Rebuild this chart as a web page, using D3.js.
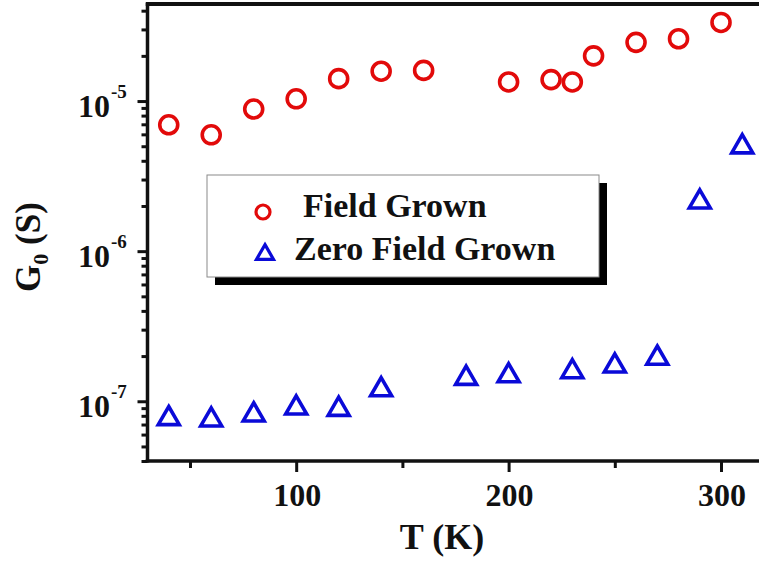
<!DOCTYPE html>
<html>
<head>
<meta charset="utf-8">
<script src="https://cdn.jsdelivr.net/npm/d3@7"></script>
<style>
  html, body { margin: 0; padding: 0; background: #fff; }
  svg { display: block; }
  text { font-family: "Liberation Serif", "Times New Roman", serif; font-weight: bold; fill: #111; }
</style>
</head>
<body>
<svg id="chart" width="759" height="563"></svg>
<script>
// Temperatures (K) and conductance G0 (S) for both sample types
const fieldTemps  = [40, 60, 80, 100, 120, 140, 160, 200, 220, 230, 240, 260, 280, 300];
const fieldValues = [6.95e-6, 5.96e-6, 8.85e-6, 1.035e-5, 1.41e-5, 1.58e-5, 1.60e-5,
                     1.34e-5, 1.39e-5, 1.34e-5, 2.0e-5, 2.46e-5, 2.60e-5, 3.34e-5];

const zeroTemps  = [40, 60, 80, 100, 120, 140, 180, 200, 230, 250, 270, 290, 310];
const zeroValues = [8.03e-8, 7.87e-8, 8.5e-8, 9.46e-8, 9.26e-8, 1.25e-7, 1.49e-7,
                    1.55e-7, 1.65e-7, 1.80e-7, 2.03e-7, 2.23e-6, 5.19e-6];

const seriesNames = ["Field Grown", "Zero Field Grown"];
const xMajorTicks = [100, 200, 300];
const xMinorTicks = [50, 150, 250];
const yMajorExponents = [-7, -6, -5];

const svg = d3.select("#chart");

const x = d3.scaleLinear().domain([30, 320]).range([147.5, 763.5]);
const y = d3.scaleLog().domain([4e-8, 4.5e-5]).range([461, 3]);

const red = "#e20a0a";
const blue = "#0a0ad8";

// Minor log ticks (2..9 per decade) inside the domain
const yMinor = [];
for (let e = -8; e <= -5; e++) {
  for (let m = 2; m <= 9; m++) {
    const v = m * Math.pow(10, e);
    if (v >= 4e-8 && v <= 4.5e-5) yMinor.push(v);
  }
}
const yMajor = yMajorExponents.map(e => Math.pow(10, e));

// Left axis
const left = svg.append("g").attr("transform", `translate(${x.range()[0]},0)`);
left.call(d3.axisLeft(y).tickValues(yMinor).tickSize(6).tickFormat(""));
left.append("g").call(d3.axisLeft(y).tickValues(yMajor).tickSize(10).tickFormat(""));
left.selectAll(".domain").remove();
left.selectAll(".tick line").attr("stroke", "#111").attr("stroke-width", 3);

// Bottom axis
const bottom = svg.append("g").attr("transform", `translate(0,${y.range()[0]})`);
bottom.call(d3.axisBottom(x).tickValues(xMinorTicks).tickSize(7).tickFormat(""));
bottom.append("g").call(d3.axisBottom(x).tickValues(xMajorTicks).tickSize(11).tickFormat(""));
bottom.selectAll(".domain").remove();
bottom.selectAll(".tick line").attr("stroke", "#111").attr("stroke-width", 3);

// Frame lines: left, bottom, top
svg.append("line").attr("x1", x.range()[0]).attr("x2", x.range()[0])
  .attr("y1", y.range()[1]).attr("y2", y.range()[0] + 1.5)
  .attr("stroke", "#111").attr("stroke-width", 3.5);
svg.append("line").attr("x1", x.range()[0] - 1.75).attr("x2", x.range()[1])
  .attr("y1", y.range()[0]).attr("y2", y.range()[0])
  .attr("stroke", "#111").attr("stroke-width", 3.5);
svg.append("line").attr("x1", x.range()[0] - 1.75).attr("x2", x.range()[1])
  .attr("y1", y.range()[1] + 1).attr("y2", y.range()[1] + 1)
  .attr("stroke", "#111").attr("stroke-width", 4);

// X tick labels
svg.append("g").selectAll("text").data(xMajorTicks).join("text")
  .attr("x", d => x(d) + 1)
  .attr("y", 506)
  .attr("text-anchor", "middle")
  .attr("font-size", 32)
  .text(d => d);

// Y tick labels as 10 with superscript exponent
const yl = svg.append("g").selectAll("text").data(yMajorExponents).join("text")
  .attr("x", 78)
  .attr("y", e => y(Math.pow(10, e)) + 15.5)
  .attr("font-size", 32);
yl.append("tspan").text("10");
yl.append("tspan").attr("font-size", 19).attr("dy", -19).attr("dx", 1).text(e => "-" + Math.abs(e));

// Axis titles
svg.append("text")
  .attr("x", 442).attr("y", 549)
  .attr("text-anchor", "middle")
  .attr("font-size", 36)
  .text("T (K)");

const yt = svg.append("text")
  .attr("transform", "translate(40,247) rotate(-90)")
  .attr("text-anchor", "middle")
  .attr("font-size", 35);
yt.append("tspan").text("G");
yt.append("tspan").attr("font-size", 22).attr("dy", 8).text("0");
yt.append("tspan").attr("dy", -8).text(" (S)");

// Marker shapes
function trianglePath(side) {
  const h = side * Math.sqrt(3) / 2;
  return `M0,${-h / 2}L${side / 2},${h / 2}L${-side / 2},${h / 2}Z`;
}

const fieldData = fieldTemps.map((t, i) => ({ t, v: fieldValues[i] }));
const zeroData = zeroTemps.map((t, i) => ({ t, v: zeroValues[i] }));

svg.append("g").selectAll("circle").data(fieldData).join("circle")
  .attr("cx", d => x(d.t)).attr("cy", d => y(d.v)).attr("r", 9)
  .attr("fill", "none").attr("stroke", red).attr("stroke-width", 3.6);

svg.append("g").selectAll("path").data(zeroData).join("path")
  .attr("transform", d => `translate(${x(d.t)},${y(d.v)})`)
  .attr("d", trianglePath(21))
  .attr("fill", "none").attr("stroke", blue).attr("stroke-width", 3.6)
  .attr("stroke-linejoin", "miter");

// Legend with drop shadow
const lg = svg.append("g");
lg.append("rect").attr("x", 215).attr("y", 183).attr("width", 392).attr("height", 102).attr("fill", "#000");
lg.append("rect").attr("x", 207).attr("y", 175).attr("width", 392).attr("height", 102)
  .attr("fill", "#fff").attr("stroke", "#8a8a8a").attr("stroke-width", 1);
lg.append("circle").attr("cx", 263).attr("cy", 212).attr("r", 7)
  .attr("fill", "none").attr("stroke", red).attr("stroke-width", 3.2);
lg.append("path").attr("transform", "translate(265,252)").attr("d", trianglePath(17))
  .attr("fill", "none").attr("stroke", blue).attr("stroke-width", 3.2);
lg.append("text").attr("x", 303).attr("y", 217).attr("font-size", 34).text(seriesNames[0]);
lg.append("text").attr("x", 294).attr("y", 260).attr("font-size", 34).text(seriesNames[1]);
</script>
</body>
</html>
